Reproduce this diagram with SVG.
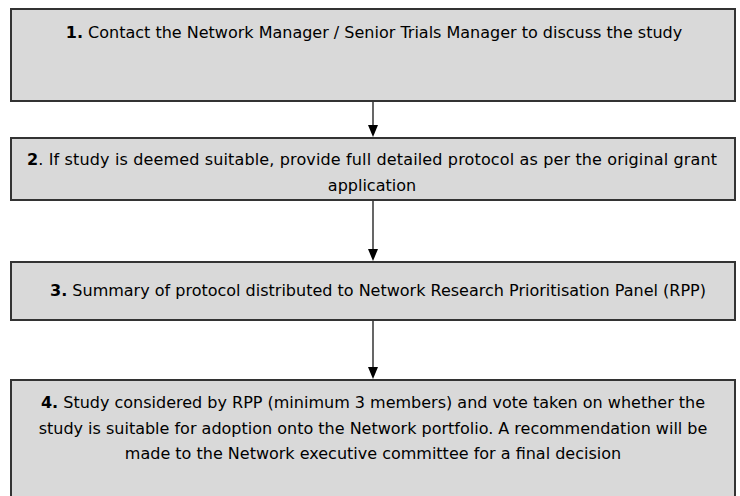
<svg xmlns="http://www.w3.org/2000/svg" width="740" height="496" viewBox="0 0 740 496">
<defs>
<style>
.box{fill:#d9d9d9;stroke:#333;stroke-width:2}
.t{font-family:"DejaVu Sans",Verdana,sans-serif;font-size:16px;fill:#000;text-anchor:middle}
.b{font-weight:bold}
.c{stroke:#000;stroke-width:1.2;fill:none}
</style>
</defs>
<rect width="740" height="496" fill="#fff"/>
<g id="connectors">
<line class="c" x1="373" y1="102" x2="373" y2="125"/>
<path d="M368,125 L378,125 L373,137 Z" fill="#000"/>
<line class="c" x1="373" y1="201" x2="373" y2="249"/>
<path d="M368,249 L378,249 L373,261 Z" fill="#000"/>
<line class="c" x1="373" y1="320" x2="373" y2="367"/>
<path d="M368,367 L378,367 L373,379 Z" fill="#000"/>
</g>
<g id="node1">
<rect class="box" x="11" y="9" width="724" height="92"/>
<text class="t" x="374" y="38"><tspan class="b">1.</tspan> Contact the Network Manager / Senior Trials Manager to discuss the study</text>
</g>
<g id="node2">
<rect class="box" x="11" y="138" width="724" height="62"/>
<text class="t" x="372" y="165" textLength="690" lengthAdjust="spacing"><tspan class="b">2</tspan>. If study is deemed suitable, provide full detailed protocol as per the original grant</text>
<text class="t" x="372" y="191">application</text>
</g>
<g id="node3">
<rect class="box" x="11" y="262" width="724" height="58"/>
<text class="t" x="378" y="296"><tspan class="b">3.</tspan> Summary of protocol distributed to Network Research Prioritisation Panel (RPP)</text>
</g>
<g id="node4">
<rect class="box" x="11" y="380" width="724" height="120"/>
<text class="t" x="373" y="408"><tspan class="b">4.</tspan> Study considered by RPP (minimum 3 members) and vote taken on whether the</text>
<text class="t" x="373" y="434">study is suitable for adoption onto the Network portfolio. A recommendation will be</text>
<text class="t" x="373" y="459">made to the Network executive committee for a final decision</text>
</g>
</svg>
